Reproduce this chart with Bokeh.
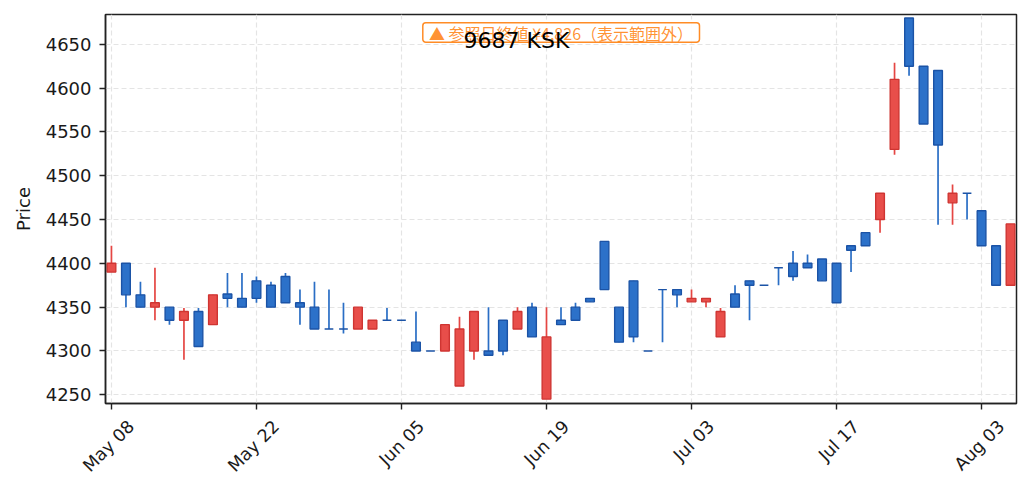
import math
from bokeh.plotting import figure
from bokeh.models import Range1d, FixedTicker, Label, LinearAxis, BoxAnnotation
from bokeh.embed import file_html
from bokeh.resources import INLINE

# ---- data ----
opens  = [4390, 4400, 4364, 4350, 4350, 4335, 4345, 4330, 4365, 4360,
          4380, 4375, 4385, 4355, 4350, 4325, 4325, 4325, 4325, 4335,
          4335, 4310, 4300, 4300, 4260, 4300, 4300, 4335, 4325, 4350,
          4245, 4335, 4350, 4360, 4425, 4350, 4380, 4300, 4370, 4370,
          4356, 4356, 4316, 4365, 4380, 4375, 4395, 4400, 4400, 4405,
          4400, 4420, 4435, 4450, 4530, 4680, 4625, 4620, 4469, 4480,
          4460, 4420, 4375]
highs  = [4420, 4400, 4379, 4395, 4350, 4349, 4349, 4364, 4389, 4389,
          4385, 4379, 4389, 4370, 4379, 4370, 4355, 4350, 4335, 4349,
          4335, 4345, 4300, 4330, 4339, 4345, 4350, 4335, 4350, 4355,
          4350, 4350, 4355, 4360, 4425, 4350, 4380, 4300, 4370, 4370,
          4370, 4360, 4349, 4375, 4380, 4375, 4395, 4414, 4410, 4405,
          4400, 4420, 4435, 4480, 4629, 4680, 4625, 4620, 4490, 4480,
          4460, 4420, 4445]
lows   = [4390, 4350, 4350, 4335, 4330, 4290, 4305, 4330, 4350, 4350,
          4355, 4350, 4355, 4330, 4325, 4325, 4320, 4325, 4325, 4335,
          4335, 4300, 4300, 4300, 4260, 4290, 4295, 4295, 4325, 4316,
          4245, 4330, 4335, 4356, 4370, 4310, 4310, 4300, 4310, 4350,
          4356, 4350, 4316, 4350, 4335, 4375, 4375, 4380, 4395, 4380,
          4355, 4390, 4420, 4435, 4524, 4614, 4559, 4444, 4444, 4450,
          4420, 4375, 4375]
closes = [4400, 4364, 4350, 4355, 4335, 4345, 4305, 4364, 4360, 4350,
          4360, 4350, 4355, 4350, 4325, 4325, 4325, 4350, 4335, 4335,
          4335, 4300, 4300, 4330, 4325, 4345, 4295, 4300, 4345, 4316,
          4316, 4330, 4335, 4356, 4370, 4310, 4316, 4300, 4370, 4364,
          4360, 4360, 4345, 4350, 4375, 4375, 4395, 4385, 4395, 4380,
          4355, 4415, 4420, 4480, 4610, 4625, 4559, 4535, 4480, 4480,
          4420, 4375, 4445]

tick_index = [0, 10, 20, 30, 40, 50, 60]
tick_labels = ["May 08", "May 22", "Jun 05", "Jun 19", "Jul 03", "Jul 17", "Aug 03"]
price_ticks = [4250, 4300, 4350, 4400, 4450, 4500, 4550, 4600, 4650]

title_text = "9687 KSK"
note_text = "▲ 参照日終値 ¥4,826（表示範囲外）"
y_label = "Price"

# ---- styles ----
UP_FILL, UP_LINE, UP_WICK = "#e84e4a", "#cf3532", "#e54643"
DN_FILL, DN_LINE, DN_WICK = "#2c71c9", "#1b53a6", "#2a6ec5"
ORANGE = "#ff7f0e"
FONT = "DejaVu Sans"
TXT = "#1a1a1a"
LABEL_SHIFT = 1.36   # date labels are drawn right-anchored; shift so they sit centred on ticks

idx = list(range(len(opens)))
up = [c > o for o, c in zip(opens, closes)]

p = figure(width=1031, height=492, output_backend="svg", toolbar_location=None,
           x_range=Range1d(-0.41, 62.41), y_range=Range1d(4240, 4684),
           min_border_left=105, min_border_right=15, min_border_top=14, min_border_bottom=89)

p.background_fill_color = "white"
p.border_fill_color = "white"
p.outline_line_color = "#222222"
p.outline_line_width = 1.5
p.outline_line_alpha = 1

# wicks
for flag, col in ((True, UP_WICK), (False, DN_WICK)):
    xs = [i for i in idx if up[i] == flag]
    p.segment(x0=xs, x1=xs, y0=[lows[i] for i in xs], y1=[highs[i] for i in xs],
              line_color=col, line_width=1.7)

# bodies
for flag, fc, lc in ((True, UP_FILL, UP_LINE), (False, DN_FILL, DN_LINE)):
    xs = [i for i in idx if up[i] == flag]
    p.vbar(x=xs, width=0.6,
           top=[max(opens[i], closes[i]) for i in xs],
           bottom=[min(opens[i], closes[i]) for i in xs],
           fill_color=fc, line_color=lc, line_width=1.4)

# grid
for g in (p.xgrid, p.ygrid):
    g.grid_line_color = "#e4e4e4"
    g.grid_line_dash = "5 3"
    g.grid_line_width = 1.2

# axes
p.xaxis.ticker = FixedTicker(ticks=tick_index)
p.yaxis.ticker = FixedTicker(ticks=price_ticks)
for ax in (p.xaxis[0], p.yaxis[0]):
    ax.axis_line_color = "#222222"
    ax.axis_line_width = 1.5
    ax.major_tick_line_color = "#222222"
    ax.major_tick_line_width = 1.4
    ax.major_tick_out = 6
    ax.major_tick_in = 0
    ax.minor_tick_line_color = None
p.xaxis.major_label_text_alpha = 0
p.xaxis.major_label_text_font_size = "1px"
p.xaxis.major_label_standoff = 0
p.yaxis.major_label_text_font = FONT
p.yaxis.major_label_text_font_size = "18px"
p.yaxis.major_label_text_color = TXT
p.yaxis.major_label_standoff = 8
p.yaxis.axis_label = y_label
p.yaxis.axis_label_text_font = FONT
p.yaxis.axis_label_text_font_size = "18px"
p.yaxis.axis_label_text_font_style = "normal"
p.yaxis.axis_label_text_color = TXT
p.yaxis.axis_label_standoff = 9

# second (label-only) axis with rotated date labels
shifted = [t + LABEL_SHIFT for t in tick_index]
lab_axis = LinearAxis(ticker=FixedTicker(ticks=shifted),
                      major_label_overrides={s: l for s, l in zip(shifted, tick_labels)},
                      major_label_orientation=math.pi / 4,
                      major_label_text_font=FONT, major_label_text_font_size="17.5px",
                      major_label_text_color=TXT, major_label_standoff=8,
                      axis_line_color=None, major_tick_line_color=None,
                      minor_tick_line_color=None)
p.add_layout(lab_axis, "below")

# out-of-range note box
p.add_layout(BoxAnnotation(left=21.47, right=40.55, top=4674.5, bottom=4652.3,
                           fill_color="white", fill_alpha=0.9,
                           line_color=ORANGE, line_width=1.5, line_alpha=0.9,
                           border_radius=3))
p.add_layout(Label(x=31.0, y=4663.4, text=note_text,
                   text_align="center", text_baseline="middle",
                   text_font="Noto Sans CJK JP", text_font_size="16px",
                   text_color=ORANGE, text_alpha=0.85))

# title
p.add_layout(Label(x=27.93, y=4654.8, text=title_text,
                   text_align="center", text_baseline="middle",
                   text_font=FONT, text_font_size="22px", text_color="black"))

open("out.html", "w").write(file_html(p, INLINE))
